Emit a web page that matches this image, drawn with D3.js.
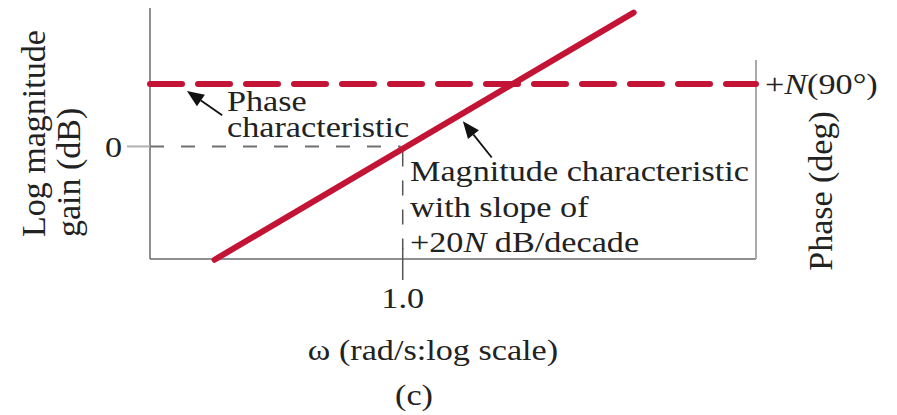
<!DOCTYPE html>
<html>
<head>
<meta charset="utf-8">
<script src="https://cdn.jsdelivr.net/npm/d3@7"></script>
<style>
  html, body { margin: 0; padding: 0; background: #fff; }
  svg { display: block; }
  text { font-family: "Liberation Serif", "Times New Roman", serif; fill: #222; }
</style>
</head>
<body>
<svg id="chart" width="897" height="415"></svg>
<script>
// ---- data ----
const omegaDomain = [0.1, 25];          // rad/s, log scale
const gainDomain = [-14.8, 18.2];       // dB
const xTickValues = [1.0];
const xTickLabels = ["1.0"];
const yTickValues = [0];
const yTickLabels = ["0"];
const magOmega = [0.18, 8.2];           // magnitude characteristic endpoints
const magDb = [-14.9, 17.6];
const phaseOmega = [0.1, 25];           // phase characteristic
const phaseDeg = [90, 90];

// ---- layout ----
const svg = d3.select("#chart");
const red = "#c41436";
const x = d3.scaleLog().domain(omegaDomain).range([150, 756]);
const y = d3.scaleLinear().domain(gainDomain).range([259, 8]);
const yPhase = d3.scaleLinear().domain([0, 90]).range([y(0), 84]);
const FS = 30, SX = 1.14;

// horizontal label helper (slightly wide serif, as in the reference)
function label(px, py, parts, anchor) {
  const g = svg.append("g").attr("transform", `translate(${px},${py}) scale(${SX},1)`);
  const t = g.append("text").attr("font-size", FS).attr("text-anchor", anchor || "start");
  parts.forEach(p => {
    const s = t.append("tspan").text(p.t || p);
    if (p.i) s.attr("font-style", "italic");
  });
  return t;
}

// left axis
svg.append("line").attr("x1", x(omegaDomain[0])).attr("x2", x(omegaDomain[0]))
  .attr("y1", y(gainDomain[1])).attr("y2", y(gainDomain[0]))
  .attr("stroke", "#6a6a6a").attr("stroke-width", 1.5);
// bottom axis
svg.append("line").attr("x1", x(omegaDomain[0])).attr("x2", x(omegaDomain[1]))
  .attr("y1", y(gainDomain[0])).attr("y2", y(gainDomain[0]))
  .attr("stroke", "#6a6a6a").attr("stroke-width", 1.5);
// right axis (phase)
svg.append("line").attr("x1", x(omegaDomain[1])).attr("x2", x(omegaDomain[1]))
  .attr("y1", 60).attr("y2", y(gainDomain[0]))
  .attr("stroke", "#aaaaaa").attr("stroke-width", 2);

// y tick 0
yTickValues.forEach((v, i) => {
  svg.append("line").attr("x1", 127).attr("x2", x(omegaDomain[0]))
    .attr("y1", y(v)).attr("y2", y(v)).attr("stroke", "#b0b0b0").attr("stroke-width", 2);
  svg.append("line").attr("x1", x(omegaDomain[0])).attr("x2", x(1.0) - 2)
    .attr("y1", y(v)).attr("y2", y(v)).attr("stroke", "#707070").attr("stroke-width", 2)
    .attr("stroke-dasharray", "14,17");
  label(122, y(v) + 11, [yTickLabels[i]], "end");
});

// x tick 1.0
xTickValues.forEach((v, i) => {
  svg.append("line").attr("x1", x(v)).attr("x2", x(v))
    .attr("y1", y(0) + 5).attr("y2", y(gainDomain[0]) - 10)
    .attr("stroke", "#555").attr("stroke-width", 1.5).attr("stroke-dasharray", "15,14");
  svg.append("line").attr("x1", x(v)).attr("x2", x(v))
    .attr("y1", y(gainDomain[0]) - 11).attr("y2", y(gainDomain[0]) + 21)
    .attr("stroke", "#555").attr("stroke-width", 1.5);
  label(x(v), 308, [xTickLabels[i]], "middle");
});

// magnitude characteristic
const magLine = d3.line().x(d => x(d[0])).y(d => y(d[1]));
svg.append("path").datum(magOmega.map((w, i) => [w, magDb[i]]))
  .attr("d", magLine).attr("fill", "none").attr("stroke", red)
  .attr("stroke-width", 6).attr("stroke-linecap", "round");

// phase characteristic
const phLine = d3.line().x(d => x(d[0])).y(d => yPhase(d[1]));
svg.append("path").datum(phaseOmega.map((w, i) => [w, phaseDeg[i]]))
  .attr("d", phLine).attr("fill", "none").attr("stroke", red)
  .attr("stroke-width", 6).attr("stroke-linecap", "round")
  .attr("stroke-dasharray", "32,16");

// arrows
function arrow(x1, y1, x2, y2) {
  const ang = Math.atan2(y2 - y1, x2 - x1);
  const L = 17, W = 7;
  const bx = x2 - L * Math.cos(ang), by = y2 - L * Math.sin(ang);
  svg.append("line").attr("x1", x1).attr("y1", y1).attr("x2", bx).attr("y2", by)
    .attr("stroke", "#111").attr("stroke-width", 1.8);
  const px = -Math.sin(ang) * W, py = Math.cos(ang) * W;
  svg.append("path")
    .attr("d", `M${x2},${y2}L${bx + px},${by + py}L${bx - px},${by - py}Z`)
    .attr("fill", "#111");
}
arrow(x(0.193), y(4.1), x(0.14), y(7.3));
arrow(x(2.25), y(-1.45), x(1.73), y(3.3));

// annotation texts
label(227, 111, ["Phase"]);
label(227, 137, ["characteristic"]);
label(410, 181, ["Magnitude characteristic"]);
label(410, 217, ["with slope of"]);
label(410, 252, ["+20", {t: "N", i: true}, " dB/decade"]);
label(765, yPhase(90) + 10, ["+", {t: "N", i: true}, "(90°)"]);

// axis titles
svg.append("text").attr("transform", "translate(45,237) rotate(-90)")
  .attr("font-size", 34).text("Log magnitude");
svg.append("text").attr("transform", "translate(80,237) rotate(-90)")
  .attr("font-size", 34).text("gain (dB)");
svg.append("text").attr("transform", "translate(832,191) rotate(-90)")
  .attr("text-anchor", "middle").attr("font-size", 34).text("Phase (deg)");
label(433, 360, ["ω (rad/s:log scale)"], "middle");
label(414, 405, ["(c)"], "middle");
</script>
</body>
</html>
